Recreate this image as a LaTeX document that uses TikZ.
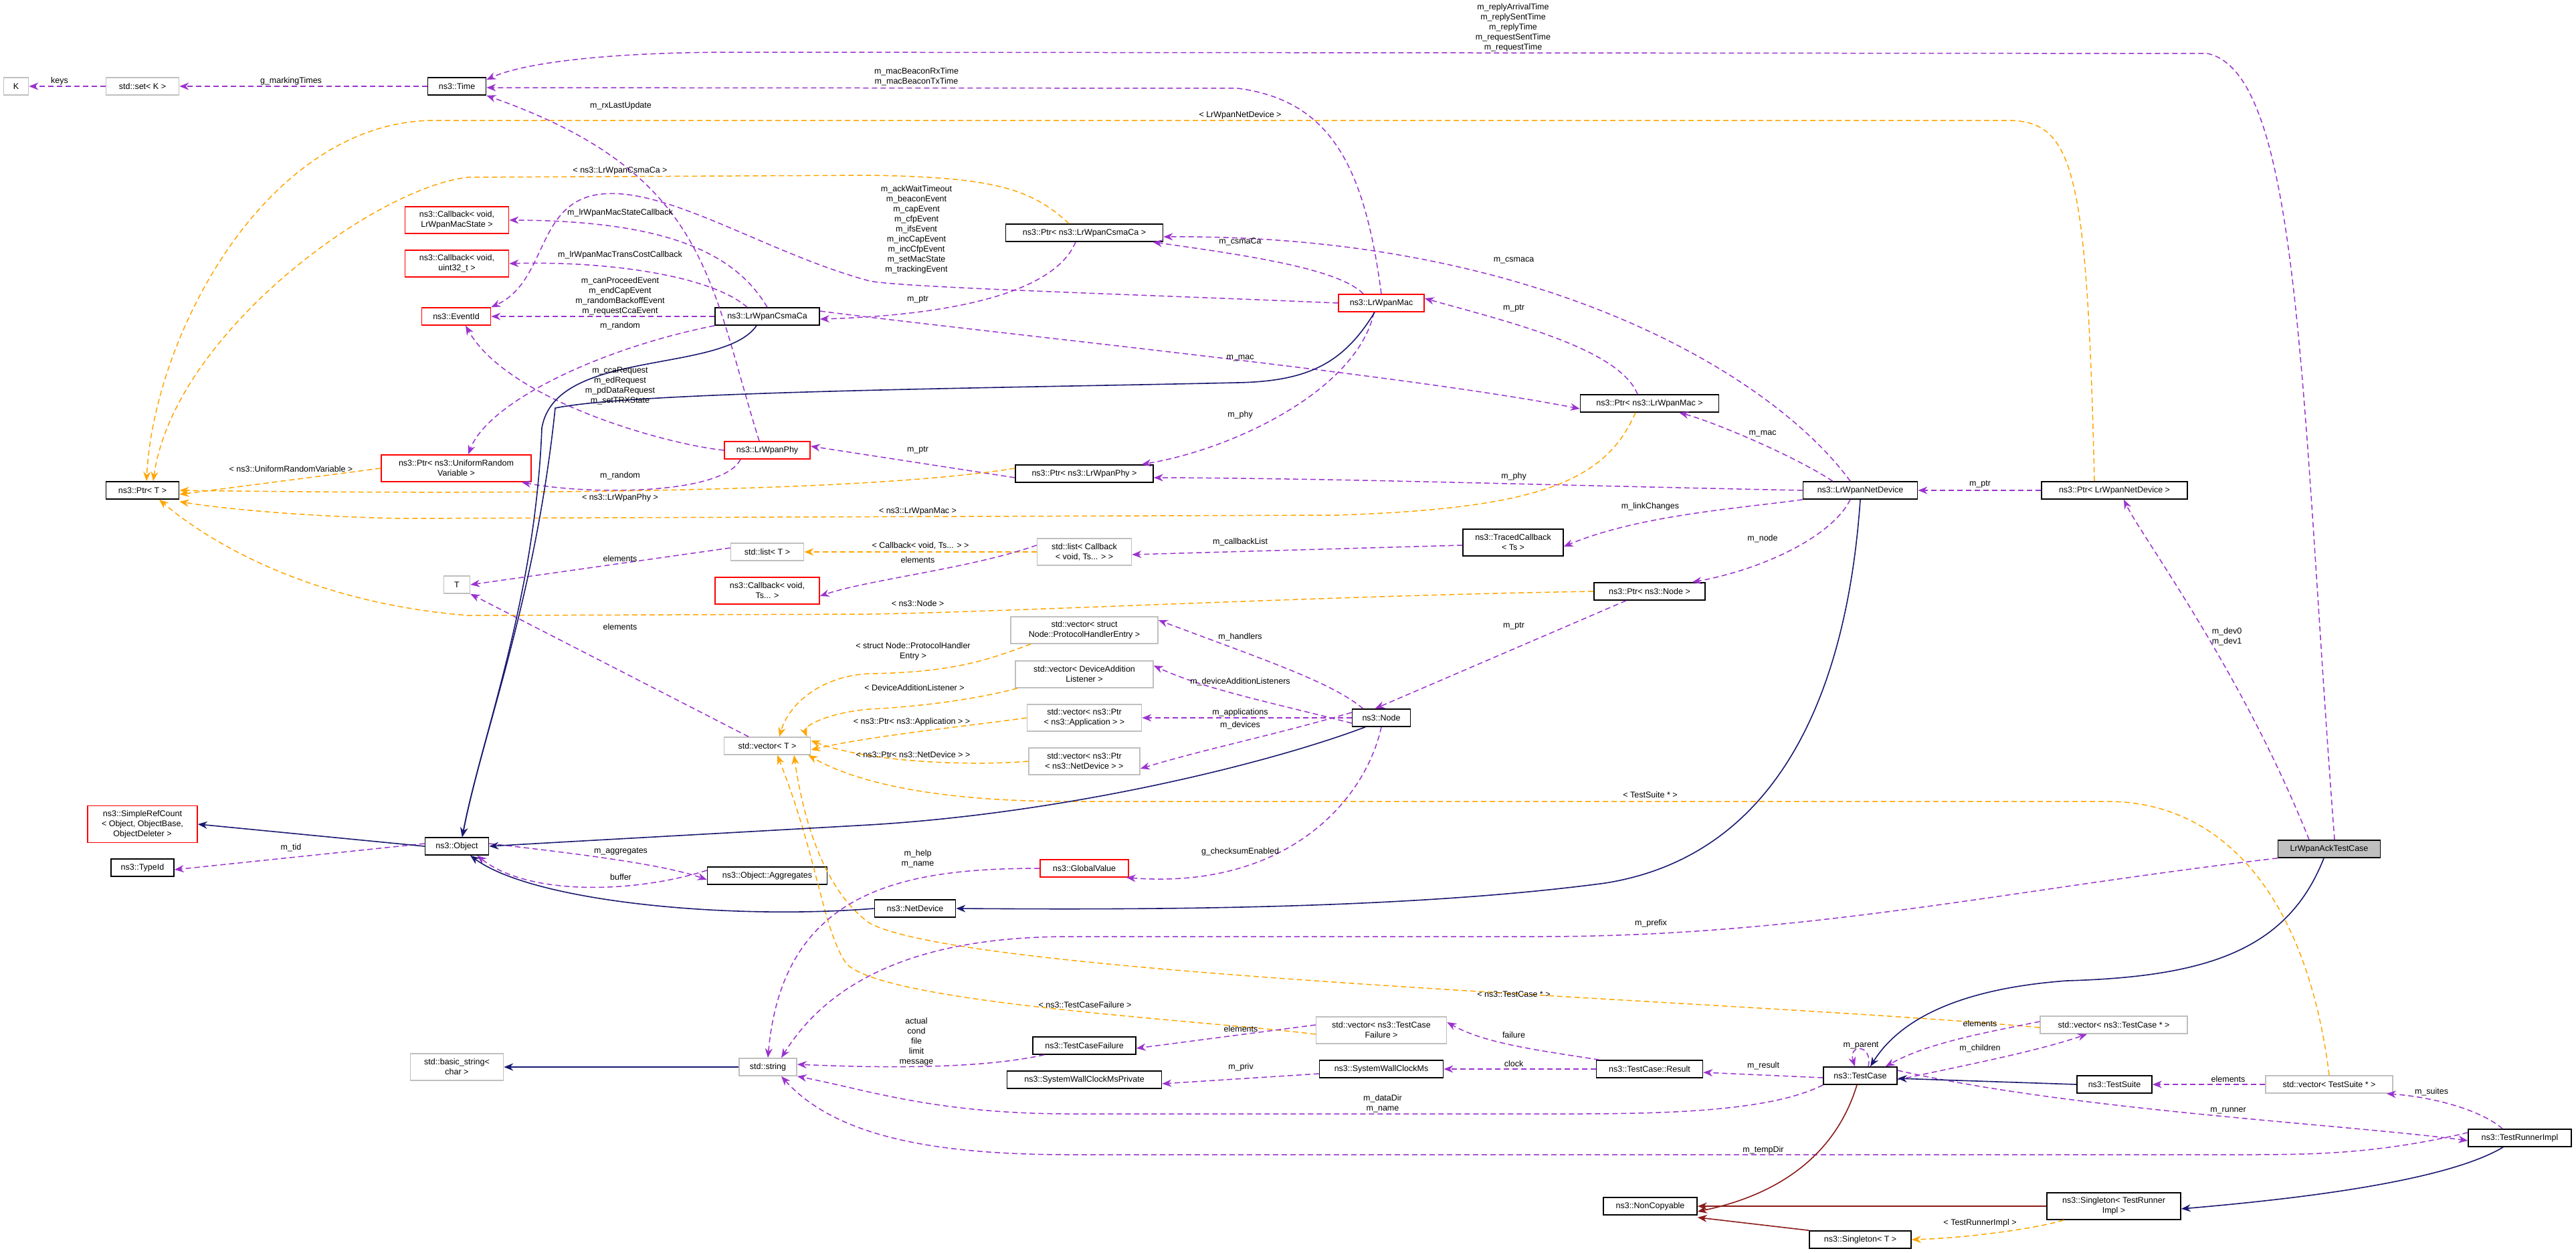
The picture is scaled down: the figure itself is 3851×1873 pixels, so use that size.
\documentclass[tikz,border=0pt]{standalone}
\usepackage{fontspec}
\setmainfont{Liberation Sans}
\usetikzlibrary{arrows.meta}
\definecolor{cpur}{HTML}{9A32CD}
\definecolor{cora}{HTML}{FFA500}
\definecolor{cblu}{HTML}{191970}
\definecolor{cred}{HTML}{8B1A1A}
\definecolor{cgry}{HTML}{BFBFBF}
\tikzset{
 every node/.style={font=\fontsize{12.5}{15}\selectfont},
 bx/.style={draw=black,line width=1.6pt,fill=white,align=center,inner sep=1pt,minimum height=26pt},
 rbx/.style={bx,draw=red},
 gbx/.style={bx,draw=cgry},
 lbl/.style={align=center,inner sep=0pt},
 tip/.style={-{Stealth[length=14pt,width=11pt]}},
 use/.style={tip,draw=cpur,line width=1.5pt,dash pattern=on 8pt off 5pt,color=cpur},
 tpl/.style={tip,draw=cora,line width=1.5pt,dash pattern=on 8pt off 5pt,color=cora},
 inh/.style={tip,draw=cblu,line width=1.6pt,color=cblu},
 prv/.style={tip,draw=cred,line width=1.6pt,color=cred},
}
\begin{document}
\begin{tikzpicture}[x=1pt,y=-1pt]
\useasboundingbox (0,0) rectangle (3851,1873);
% nodes
\node[gbx,minimum width=37pt] (K) at (24,129) {K};
\node[gbx,minimum width=109pt] (set) at (213,129) {std::set< K >};
\node[bx,minimum width=87pt] (Time) at (683,129) {ns3::Time};
\node[rbx,minimum width=155pt,minimum height=40pt] (CBms) at (683,329) {ns3::Callback< void,\\ LrWpanMacState >};
\node[rbx,minimum width=155pt,minimum height=40pt] (CBu) at (683,394) {ns3::Callback< void,\\ uint32\_t >};
\node[rbx,minimum width=103pt] (Ev) at (682,473) {ns3::EventId};
\node[bx,minimum width=156pt] (Csma) at (1147,473) {ns3::LrWpanCsmaCa};
\node[bx,minimum width=235pt] (PCsma) at (1621,348) {ns3::Ptr< ns3::LrWpanCsmaCa >};
\node[rbx,minimum width=128pt] (Mac) at (2065,453) {ns3::LrWpanMac};
\node[bx,minimum width=207pt] (PMac) at (2466,603) {ns3::Ptr< ns3::LrWpanMac >};
\node[bx,minimum width=109pt] (PT) at (213,733) {ns3::Ptr< T >};
\node[rbx,minimum width=224pt,minimum height=40pt] (PURV) at (682,700) {ns3::Ptr< ns3::UniformRandom\\Variable >};
\node[rbx,minimum width=128pt] (Phy) at (1147,673) {ns3::LrWpanPhy};
\node[gbx,minimum width=109pt] (listT) at (1147,825) {std::list< T >};
\node[gbx,minimum width=39pt] (T) at (683,874) {T};
\node[rbx,minimum width=156pt,minimum height=40pt] (CBTs) at (1147,883) {ns3::Callback< void,\\ Ts... >};
\node[gbx,minimum width=129pt] (vecT) at (1147,1115) {std::vector< T >};
\node[rbx,minimum width=164pt,minimum height=55pt] (SRC) at (213,1232) {ns3::SimpleRefCount\\< Object, ObjectBase,\\ ObjectDeleter >};
\node[bx,minimum width=95pt] (Obj) at (683,1265) {ns3::Object};
\node[bx,minimum width=94pt] (Tid) at (213,1297) {ns3::TypeId};
\node[bx,minimum width=206pt] (PPhy) at (1621,708) {ns3::Ptr< ns3::LrWpanPhy >};
\node[gbx,minimum width=141pt,minimum height=40pt] (listCB) at (1621,825) {std::list< Callback\\< void, Ts... > >};
\node[bx,minimum width=150pt,minimum height=40pt] (Tr) at (2262,811) {ns3::TracedCallback\\< Ts >};
\node[bx,minimum width=166pt] (PNode) at (2466,884) {ns3::Ptr< ns3::Node >};
\node[gbx,minimum width=220pt,minimum height=40pt] (vPHE) at (1621,942) {std::vector< struct\\ Node::ProtocolHandlerEntry >};
\node[gbx,minimum width=206pt,minimum height=40pt] (vDAL) at (1621,1008) {std::vector< DeviceAddition\\Listener >};
\node[gbx,minimum width=171pt,minimum height=40pt] (vApp) at (1621,1073) {std::vector< ns3::Ptr\\< ns3::Application > >};
\node[gbx,minimum width=166pt,minimum height=40pt] (vND) at (1621,1138) {std::vector< ns3::Ptr\\< ns3::NetDevice > >};
\node[bx,minimum width=87pt] (Node) at (2065,1073) {ns3::Node};
\node[rbx,minimum width=132pt] (GV) at (1621,1298) {ns3::GlobalValue};
\node[bx,minimum width=179pt] (Agg) at (1147,1309) {ns3::Object::Aggregates};
\node[bx,minimum width=121pt] (NetD) at (1368,1358) {ns3::NetDevice};
\node[gbx,minimum width=139pt,minimum height=40pt] (bstr) at (683,1595) {std::basic\_string<\\ char >};
\node[gbx,minimum width=86pt] (str) at (1148,1595) {std::string};
\node[bx,minimum width=154pt] (TCF) at (1621,1563) {ns3::TestCaseFailure};
\node[bx,minimum width=231pt] (SWP) at (1621,1614) {ns3::SystemWallClockMsPrivate};
\node[gbx,minimum width=195pt,minimum height=40pt] (vTCF) at (2065,1540) {std::vector< ns3::TestCase\\Failure >};
\node[bx,minimum width=185pt] (SW) at (2065,1598) {ns3::SystemWallClockMs};
\node[bx,minimum width=159pt] (Res) at (2466,1598) {ns3::TestCase::Result};
\node[bx,minimum width=153pt,fill=cgry] (Ack) at (3482,1269) {LrWpanAckTestCase};
\node[gbx,minimum width=220pt] (vTC) at (3160,1532) {std::vector< ns3::TestCase * >};
\node[bx,minimum width=110pt] (TC) at (2781,1608) {ns3::TestCase};
\node[bx,minimum width=112pt] (TS) at (3161,1621) {ns3::TestSuite};
\node[gbx,minimum width=190pt] (vTS) at (3482,1621) {std::vector< TestSuite * >};
\node[bx,minimum width=154pt] (TRI) at (3767,1701) {ns3::TestRunnerImpl};
\node[bx,minimum width=140pt] (NC) at (2467,1803) {ns3::NonCopyable};
\node[bx,minimum width=200pt,minimum height=40pt] (STRI) at (3160,1803) {ns3::Singleton< TestRunner\\Impl >};
\node[bx,minimum width=152pt] (ST) at (2781,1853) {ns3::Singleton< T >};
\node[bx,minimum width=171pt] (LND) at (2781,733) {ns3::LrWpanNetDevice};
\node[bx,minimum width=218pt] (PLND) at (3161,733) {ns3::Ptr< LrWpanNetDevice >};
% uses edges
\draw[use] (set.west) -- (K.east);
\draw[use] (Time.west) -- (set.east);
\draw[use] ([xshift=8pt]Ack.north) .. controls (3440,600) and (3440,110) .. (3300,80) -- (1100,78) .. controls (900,78) and (780,95) .. ([yshift=-4pt]Time.north east);
\draw[use] (Mac.north) .. controls (2040,250) and (1990,150) .. (1850,132) -- ([yshift=-2pt]Time.east);
\draw[use] ([xshift=-12pt]Phy.north) .. controls (1060,420) and (1060,260) .. (Time.south east);
\draw[use] (Csma.north) .. controls (1100,380) and (1000,330) .. (CBms.east);
\draw[use] ([xshift=-30pt]Csma.north) .. controls (1060,410) and (900,390) .. (CBu.east);
\draw[use] (Csma.west) -- (Ev.east);
\draw[use] (Mac.west) .. controls (1700,440) and (1350,430) .. (1300,420) .. controls (1150,380) and (1000,280) .. (900,290) .. controls (800,300) and (820,420) .. (Ev.north east);
\draw[use] (Phy.west) .. controls (1000,665) and (760,600) .. ([xshift=14pt]Ev.south);
\draw[use] (Csma.south west) .. controls (900,520) and (730,600) .. ([xshift=18pt]PURV.north);
\draw[use] ([xshift=-40pt]Phy.south) .. controls (1080,740) and (880,740) .. ([xshift=-15pt]PURV.south east);
\draw[use] ([xshift=-13pt]PCsma.south) .. controls (1580,430) and (1450,470) .. ([yshift=-4pt]Csma.east);
\draw[use] ([xshift=-27pt]Mac.north) .. controls (2000,400) and (1850,380) .. ([xshift=-16pt]PCsma.south east);
\draw[use] ([xshift=-15pt]LND.north) .. controls (2650,560) and (2300,350) .. ([yshift=-6pt]PCsma.east);
\draw[use] ([yshift=8pt]Csma.east) .. controls (1500,500) and (2100,560) .. ([yshift=-8pt]PMac.west);
\draw[use] ([xshift=-18pt]PMac.north) .. controls (2420,520) and (2250,480) .. ([yshift=7pt]Mac.east);
\draw[use] ([xshift=-11pt]Mac.south) .. controls (2030,580) and (1850,670) .. ([xshift=-18pt]PPhy.north east);
\draw[use] ([yshift=-6pt]PPhy.west) -- ([yshift=6pt]Phy.east);
\draw[use] (LND.west) .. controls (2300,725) and (2000,715) .. ([yshift=-6pt]PPhy.east);
\draw[use] ([xshift=45pt]LND.north west) .. controls (2680,680) and (2560,630) .. ([xshift=-60pt]PMac.south east);
\draw[use] (PLND.west) -- (LND.east);
\draw[use] (LND.south west) .. controls (2600,760) and (2450,770) .. ([yshift=-6pt]Tr.east);
\draw[use] ([xshift=-15pt]LND.south) .. controls (2740,800) and (2640,850) .. ([xshift=-20pt]PNode.north east);
\draw[use] ([yshift=-4pt]Tr.west) -- ([yshift=-4pt]listCB.east);
\draw[tpl] (listCB.west) -- (listT.east);
\draw[use] ([yshift=10pt]listCB.west) .. controls (1450,850) and (1300,866) .. ([yshift=-8pt]CBTs.east);
\draw[use] ([yshift=6pt]listT.west) -- (T.east);
\draw[use] ([xshift=-28pt]vecT.north) -- (T.south east);
\draw[use] ([xshift=-35pt]PNode.south) -- ([xshift=35pt]Node.north west);
\draw[use] ([xshift=17pt]Node.north west) .. controls (1990,1020) and (1900,990) .. ([yshift=15pt]vPHE.east);
\draw[use] ([yshift=-8pt]Node.west) .. controls (1900,1050) and (1800,1030) .. ([yshift=13pt]vDAL.east);
\draw[use] (Node.west) -- (vApp.east);
\draw[use] ([yshift=8pt]Node.west) .. controls (1900,1100) and (1800,1120) .. ([yshift=-11pt]vND.east);
\draw[tpl] ([xshift=-80pt]vPHE.south) .. controls (1480,985) and (1430,1005) .. (1300,1007) .. controls (1230,1010) and (1180,1050) .. ([xshift=18pt]vecT.north);
\draw[tpl] ([xshift=-100pt]vDAL.south) .. controls (1480,1040) and (1400,1055) .. (1300,1060) .. controls (1240,1065) and (1200,1085) .. ([xshift=-6pt]vecT.north east);
\draw[tpl] (vApp.west) .. controls (1450,1085) and (1300,1100) .. ([yshift=-6pt]vecT.east);
\draw[tpl] (vND.west) .. controls (1450,1145) and (1300,1140) .. ([yshift=8pt]vecT.east);
\draw[tpl] ([yshift=-4pt]vTC.west) .. controls (2600,1495) and (1450,1460) .. (1300,1380) .. controls (1230,1330) and (1200,1220) .. ([xshift=40pt]vecT.south);
\draw[tpl] ([yshift=-6pt]vTCF.west) .. controls (1800,1525) and (1320,1500) .. (1265,1440) .. controls (1230,1390) and (1222,1280) .. ([xshift=15pt]vecT.south);
\draw[tpl] (vTS.north) .. controls (3450,1350) and (3330,1198) .. (3150,1198) -- (1600,1198) .. controls (1400,1198) and (1280,1170) .. ([xshift=-4pt]vecT.south east);
\draw[use] (Node.south) .. controls (2040,1200) and (1920,1330) .. ([xshift=-4pt]GV.south east);
\draw[use] (GV.west) .. controls (1350,1298) and (1170,1330) .. (str.north);
\draw[use] ([yshift=4pt]Obj.east) .. controls (900,1280) and (1000,1295) .. ([yshift=-6pt]Agg.west);
\draw[use] ([yshift=8pt]Agg.west) .. controls (950,1335) and (790,1340) .. ([xshift=-18pt]Obj.south east);
\draw[use] ([yshift=4pt]Obj.west) -- ([yshift=-3pt]Tid.east);
\draw[use] ([xshift=-60pt]TCF.south) .. controls (1500,1590) and (1400,1600) .. ([yshift=4pt]str.east);
\draw[use] ([yshift=8pt]vTCF.west) -- ([yshift=-4pt]TCF.east);
\draw[use] ([yshift=-7pt]SW.west) -- ([yshift=-6pt]SWP.east);
\draw[use] ([xshift=5pt]Res.north west) .. controls (2300,1570) and (2220,1560) .. ([yshift=12pt]vTCF.east);
\draw[use] (Res.west) -- (SW.east);
\draw[use] ([yshift=-3pt]TC.west) -- ([yshift=-5pt]Res.east);
\draw[use] (TC.south west) .. controls (2650,1660) and (2500,1665) .. (2350,1665) -- (1600,1665) .. controls (1400,1665) and (1300,1630) .. (str.south east);
\draw[use] ([yshift=8pt]TRI.west) .. controls (3550,1726) and (3450,1726) .. (3350,1726) -- (1600,1726) .. controls (1400,1726) and (1250,1700) .. ([xshift=20pt]str.south);
\draw[use] (Ack.south west) .. controls (3000,1330) and (2700,1400) .. (2300,1400) -- (1600,1400) .. controls (1400,1400) and (1250,1450) .. ([xshift=20pt]str.north);
\draw[use] ([xshift=12pt]TC.north) .. controls (2800,1560) and (2762,1560) .. ([xshift=-8pt]TC.north);
\draw[use] ([yshift=5pt]vTC.west) .. controls (2960,1545) and (2880,1560) .. ([xshift=-18pt]TC.north east);
\draw[use] ([yshift=-6pt]TC.east) .. controls (2950,1590) and (3050,1570) .. ([xshift=-40pt]vTC.south);
\draw[use] (vTS.west) -- (TS.east);
\draw[use] ([xshift=-26pt]TRI.north) .. controls (3710,1660) and (3640,1640) .. ([xshift=-10pt]vTS.south east);
\draw[use] ([yshift=8pt]TC.east) .. controls (3100,1660) and (3500,1680) .. ([yshift=-4pt]TRI.west);
\draw[use] ([xshift=-30pt]Ack.north) .. controls (3350,1000) and (3200,800) .. ([xshift=14pt]PLND.south);
% template edges to Ptr<T>
\draw[tpl] ([xshift=-30pt]PLND.north) .. controls (3120,250) and (3100,180) .. (3000,180) -- (650,180) .. controls (400,180) and (230,500) .. ([xshift=6pt]PT.north);
\draw[tpl] ([xshift=-23pt]PCsma.north) .. controls (1540,280) and (1480,265) .. (1300,262) -- (700,265) .. controls (560,280) and (260,500) .. ([xshift=16pt]PT.north);
\draw[tpl] (PURV.west) -- ([yshift=-6pt]PT.east);
\draw[tpl] ([yshift=8pt]PPhy.west) .. controls (1300,735) and (800,740) .. (PT.east);
\draw[tpl] ([xshift=-21pt]PMac.south) .. controls (2400,720) and (2300,760) .. (2000,770) -- (600,775) .. controls (450,772) and (330,760) .. ([yshift=-3pt]PT.south east);
\draw[tpl] (PNode.west) .. controls (2000,890) and (1500,915) .. (1300,918) -- (700,920) .. controls (450,900) and (300,800) .. ([xshift=25pt]PT.south);
\draw[tpl] ([xshift=-75pt]STRI.south) .. controls (3050,1835) and (2950,1850) .. (ST.east);
% inheritance
\draw[inh] (Obj.west) -- (SRC.east);
\draw[inh] ([xshift=-16pt]Csma.south) .. controls (1080,560) and (830,520) .. (810,640) .. controls (800,900) and (720,1100) .. ([xshift=8pt]Obj.north);
\draw[inh] ([xshift=-10pt]Mac.south) .. controls (2010,540) and (1960,570) .. (1850,572) .. controls (1500,580) and (950,585) .. (830,610) .. controls (800,900) and (720,1100) .. ([xshift=8pt]Obj.north);
\draw[inh] ([xshift=-24pt]Node.south) .. controls (1900,1140) and (1600,1215) .. (1300,1233) .. controls (1000,1250) and (850,1258) .. (Obj.east);
\draw[inh] (NetD.west) .. controls (1100,1375) and (800,1350) .. ([xshift=20pt]Obj.south);
\draw[inh] (LND.south) .. controls (2760,1050) and (2650,1280) .. (2400,1320) .. controls (2100,1360) and (1700,1360) .. (NetD.east);
\draw[inh] ([xshift=-8pt]Ack.south) .. controls (3420,1420) and (3300,1460) .. (3090,1466) .. controls (2900,1480) and (2830,1540) .. ([xshift=15pt]TC.north);
\draw[inh] (TS.west) -- ([yshift=-4pt]TC.east);
\draw[inh] ([xshift=-25pt]TRI.south) .. controls (3650,1770) and (3400,1795) .. ([yshift=-4pt]STRI.east);
\draw[inh] (str.west) -- (bstr.east);
\draw[prv] ([xshift=-5pt]TC.south) .. controls (2740,1740) and (2640,1790) .. ([yshift=-8pt]NC.east);
\draw[prv] (STRI.west) -- (NC.east);
\draw[prv] (ST.north west) -- ([yshift=-3pt]NC.south east);
% labels
\node[lbl] (l1) at (89,121) {keys};
\node[lbl] (l2) at (435,121) {g\_markingTimes};
\node[lbl] (l3) at (2262,41) {m\_replyArrivalTime\\m\_replySentTime\\m\_replyTime\\m\_requestSentTime\\m\_requestTime};
\node[lbl] (l4) at (1370,115) {m\_macBeaconRxTime\\m\_macBeaconTxTime};
\node[lbl] (l5) at (928,158) {m\_rxLastUpdate};
\node[lbl] (l6) at (1854,172) {< LrWpanNetDevice >};
\node[lbl] (l7) at (927,255) {< ns3::LrWpanCsmaCa >};
\node[lbl] (l8) at (927,318) {m\_lrWpanMacStateCallback};
\node[lbl] (l9) at (927,381) {m\_lrWpanMacTransCostCallback};
\node[lbl] (l10) at (927,443) {m\_canProceedEvent\\m\_endCapEvent\\m\_randomBackoffEvent\\m\_requestCcaEvent};
\node[lbl] (l11) at (927,487) {m\_random};
\node[lbl] (l12) at (927,577) {m\_ccaRequest\\m\_edRequest\\m\_pdDataRequest\\m\_setTRXState};
\node[lbl] (l13) at (1370,343) {m\_ackWaitTimeout\\m\_beaconEvent\\m\_capEvent\\m\_cfpEvent\\m\_ifsEvent\\m\_incCapEvent\\m\_incCfpEvent\\m\_setMacState\\m\_trackingEvent};
\node[lbl] (l14) at (1854,361) {m\_csmaCa};
\node[lbl] (l15) at (2263,389) {m\_csmaca};
\node[lbl] (l16) at (2263,461) {m\_ptr};
\node[lbl] (l17) at (1372,448) {m\_ptr};
\node[lbl] (l18) at (1854,535) {m\_mac};
\node[lbl] (l19) at (1854,620) {m\_phy};
\node[lbl] (l20) at (435,701) {< ns3::UniformRandomVariable >};
\node[lbl] (l21) at (927,711) {m\_random};
\node[lbl] (l22) at (927,744) {< ns3::LrWpanPhy >};
\node[lbl] (l23) at (927,835) {elements};
\node[lbl] (l24) at (927,937) {elements};
\node[lbl] (l25) at (1372,673) {m\_ptr};
\node[lbl] (l26) at (2263,712) {m\_phy};
\node[lbl] (l27) at (1372,764) {< ns3::LrWpanMac >};
\node[lbl] (l28) at (2467,757) {m\_linkChanges};
\node[lbl] (l29) at (1376,816) {< Callback< void, Ts... > >};
\node[lbl] (l30) at (1372,837) {elements};
\node[lbl] (l31) at (1854,810) {m\_callbackList};
\node[lbl] (l32) at (1372,902) {< ns3::Node >};
\node[lbl] (l33) at (2263,936) {m\_ptr};
\node[lbl] (l34) at (1365,974) {< struct Node::ProtocolHandler\\Entry >};
\node[lbl] (l35) at (1854,952) {m\_handlers};
\node[lbl] (l36) at (1367,1028) {< DeviceAdditionListener >};
\node[lbl] (l37) at (1854,1019) {m\_deviceAdditionListeners};
\node[lbl] (l38) at (1363,1079) {< ns3::Ptr< ns3::Application > >};
\node[lbl] (l39) at (1854,1065) {m\_applications};
\node[lbl] (l40) at (1854,1084) {m\_devices};
\node[lbl] (l41) at (1365,1128) {< ns3::Ptr< ns3::NetDevice > >};
\node[lbl] (l42) at (2467,1188) {< TestSuite * >};
\node[lbl] (l43) at (1372,1284) {m\_help\\m\_name};
\node[lbl] (l44) at (1854,1273) {g\_checksumEnabled};
\node[lbl] (l45) at (928,1273) {m\_aggregates};
\node[lbl] (l46) at (928,1311) {buffer};
\node[lbl] (l47) at (435,1267) {m\_tid};
\node[lbl] (l48) at (1622,1502) {< ns3::TestCaseFailure >};
\node[lbl] (l49) at (1370,1557) {actual\\cond\\file\\limit\\message};
\node[lbl] (l50) at (1855,1538) {elements};
\node[lbl] (l51) at (1855,1595) {m\_priv};
\node[lbl] (l52) at (2263,1486) {< ns3::TestCase * >};
\node[lbl] (l53) at (2263,1547) {failure};
\node[lbl] (l54) at (2263,1590) {clock};
\node[lbl] (l55) at (2636,1593) {m\_result};
\node[lbl] (l56) at (2067,1650) {m\_dataDir\\m\_name};
\node[lbl] (l57) at (2468,1380) {m\_prefix};
\node[lbl] (l58) at (2960,1530) {elements};
\node[lbl] (l59) at (2782,1563) {m\_parent};
\node[lbl] (l60) at (2960,1567) {m\_children};
\node[lbl] (l61) at (3331,1613) {elements};
\node[lbl] (l62) at (3635,1632) {m\_suites};
\node[lbl] (l63) at (3331,1660) {m\_runner};
\node[lbl] (l64) at (2636,1719) {m\_tempDir};
\node[lbl] (l65) at (2960,1828) {< TestRunnerImpl >};
\node[lbl] (l66) at (2635,648) {m\_mac};
\node[lbl] (l67) at (2960,724) {m\_ptr};
\node[lbl] (l68) at (2635,805) {m\_node};
\node[lbl] (l69) at (3329,952) {m\_dev0\\m\_dev1};
\end{tikzpicture}
\end{document}
